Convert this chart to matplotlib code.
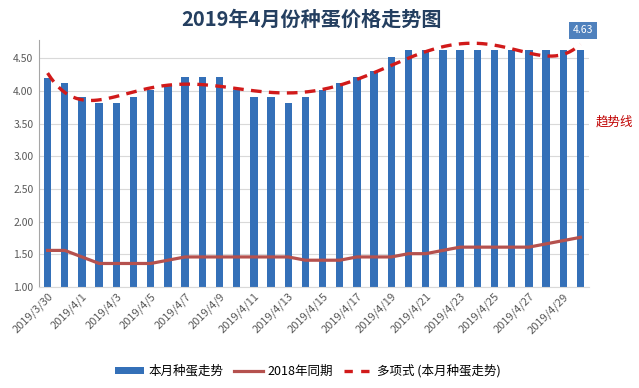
import numpy as np
import matplotlib
matplotlib.use("Agg")
import matplotlib.pyplot as plt
from matplotlib.patches import Patch
from matplotlib.lines import Line2D

plt.rcParams['font.family'] = ['Noto Sans CJK SC', 'DejaVu Sans']

dates = ["2019/3/30", "2019/3/31"] + [f"2019/4/{d}" for d in range(1, 31)]
price_2019 = [4.20, 4.12, 3.91, 3.81, 3.81, 3.91, 4.02, 4.09, 4.22, 4.22, 4.22, 4.02,
              3.91, 3.91, 3.81, 3.91, 4.02, 4.12, 4.22, 4.30, 4.52, 4.63, 4.63, 4.63,
              4.63, 4.63, 4.63, 4.63, 4.63, 4.63, 4.63, 4.63]
price_2018 = [1.56, 1.56, 1.46, 1.36, 1.36, 1.36, 1.36, 1.41, 1.46, 1.46, 1.46, 1.46,
              1.46, 1.46, 1.46, 1.41, 1.41, 1.41, 1.46, 1.46, 1.46, 1.51, 1.51, 1.56,
              1.61, 1.61, 1.61, 1.61, 1.61, 1.66, 1.71, 1.76]
yticks = [1.00, 1.50, 2.00, 2.50, 3.00, 3.50, 4.00, 4.50]
last_label = "4.63"

x = np.arange(len(dates))
coef = np.polyfit(x + 1, price_2019, 6)
xs = np.linspace(0, len(dates) - 1, 300)
trend = np.polyval(coef, xs + 1)

fig = plt.figure(figsize=(6.39, 3.88), dpi=100)
ax = fig.add_axes([39/639, 1 - 287/388, (589-39)/639, (287-40)/388])

bar_color = '#3470B8'
line_color = '#B5514E'
trend_color = '#D11A1A'

ax.bar(x, np.array(price_2019) - 1.0, bottom=1.0, width=0.43, color=bar_color, zorder=2)
ax.plot(x, price_2018, color=line_color, lw=2.3, zorder=3)
ax.plot(xs, trend, color=trend_color, lw=2.4, dashes=(3.2, 2.2), zorder=4)

ax.set_xlim(-0.5, len(dates) - 0.5)
ax.set_ylim(1.0, 4.78)
ax.set_yticks(yticks)
ax.set_yticklabels([f"{v:.2f}" for v in yticks], fontsize=7.5, color='#595959')
ax.yaxis.grid(True, color='#D9D9D9', lw=0.8, zorder=0)
ax.set_axisbelow(True)
ax.tick_params(axis='y', length=0, pad=4)
ax.set_xticks(x[::2])
ax.set_xticklabels(dates[::2], rotation=45, ha='right', va='top', rotation_mode='anchor',
                   fontsize=8, color='#595959')
ax.tick_params(axis='x', length=0, pad=3)
for s in ['top', 'right']:
    ax.spines[s].set_visible(False)
ax.spines['left'].set_color('#A6A6A6')
ax.spines['bottom'].set_color('#D9D9D9')

ax.annotate(last_label, xy=(x[-1], price_2019[-1]), xytext=(2, 14), textcoords='offset points',
            ha='center', va='center', fontsize=7.5, color='white',
            bbox=dict(boxstyle='square,pad=0.35', fc='#4F81BD', ec='none'),
            annotation_clip=False, zorder=5)

fig.text(312/639, 1 - 19/388, "2019年4月份种蛋价格走势图", ha='center', va='center',
         fontsize=14.5, fontweight='bold', color='#243F60')
fig.text(596/639, 1 - 122/388, "趋势线", ha='left', va='center', fontsize=9, color='#C00000')

handles = [Patch(facecolor=bar_color, edgecolor='none'),
           Line2D([], [], color=line_color, lw=2.3),
           Line2D([], [], color=trend_color, lw=2.4, dashes=(2.5, 2.5))]
labels = ["本月种蛋走势", "2018年同期", "多项式 (本月种蛋走势)"]
fig.legend(handles, labels, loc='center', bbox_to_anchor=(308/639, 1 - 371/388), ncol=3,
           frameon=False, fontsize=9, handlelength=2.3, handleheight=0.55,
           columnspacing=0.9, handletextpad=0.35)

fig.savefig("out.png", dpi=100, facecolor='white')
